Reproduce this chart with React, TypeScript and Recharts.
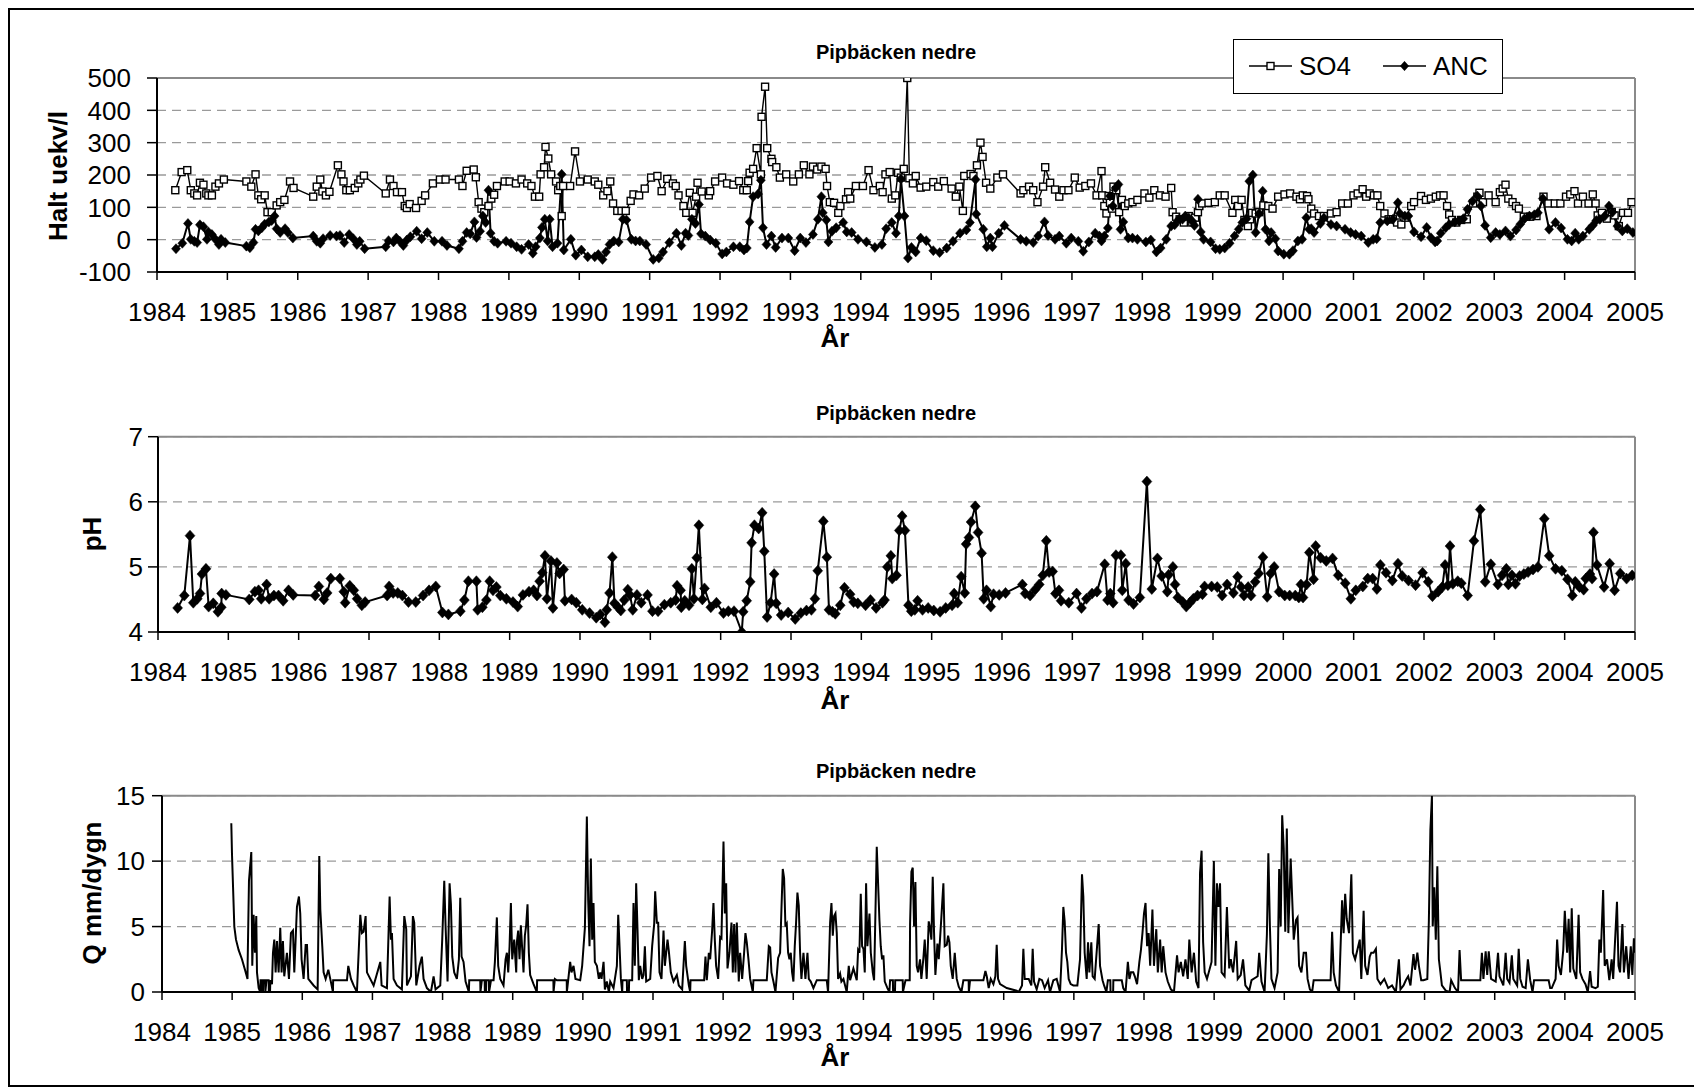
import React from 'react';
import { LineChart, Line, XAxis, YAxis, CartesianGrid, ReferenceLine } from 'recharts';

const FONT = '"Liberation Sans", Arial, Helvetica, sans-serif';

// ---------- tick labels ----------
const yearTicks = [1984, 1985, 1986, 1987, 1988, 1989, 1990, 1991, 1992, 1993, 1994, 1995, 1996, 1997, 1998, 1999, 2000, 2001, 2002, 2003, 2004, 2005];
const concTicks = [-100, 0, 100, 200, 300, 400, 500];
const phTicks = [4, 5, 6, 7];
const qTicks = [0, 5, 10, 15];

const chartTitle = 'Pipbäcken nedre';
const xTitle = 'År';

// ---------- SO4 (µekv/l) [decimal year, value] ----------
const so4Series: [number, number][] = [
  [1984.26, 153], [1984.35, 209], [1984.43, 215], [1984.48, 153], [1984.53, 143], [1984.57, 137], [1984.61, 176], [1984.66, 170], [1984.70, 143], [1984.73, 137], [1984.78, 137], [1984.83, 164], [1984.88, 174], [1984.95, 186],
  [1985.27, 180], [1985.34, 164], [1985.40, 202], [1985.44, 137], [1985.48, 125], [1985.53, 137], [1985.57, 85], [1985.63, 85], [1985.70, 106], [1985.75, 116], [1985.81, 123], [1985.89, 180], [1985.94, 160],
  [1986.22, 133], [1986.27, 164], [1986.32, 186], [1986.35, 149], [1986.40, 137], [1986.45, 148], [1986.57, 230], [1986.62, 202], [1986.65, 180], [1986.69, 153], [1986.74, 153], [1986.81, 160], [1986.86, 174], [1986.89, 186], [1986.94, 198],
  [1987.25, 143], [1987.31, 186], [1987.36, 166], [1987.41, 147], [1987.48, 147], [1987.52, 104], [1987.55, 98], [1987.59, 110], [1987.68, 98], [1987.76, 120], [1987.81, 137], [1987.92, 174],
  [1988.02, 186], [1988.10, 186], [1988.29, 186], [1988.34, 166], [1988.40, 213], [1988.50, 217], [1988.53, 193], [1988.57, 116], [1988.61, 96], [1988.65, 85], [1988.71, 104], [1988.75, 127], [1988.79, 139], [1988.83, 166], [1988.94, 180],
  [1989.01, 180], [1989.10, 174], [1989.18, 186], [1989.26, 174], [1989.32, 166], [1989.37, 133], [1989.43, 133], [1989.45, 202], [1989.50, 224], [1989.52, 287], [1989.56, 251], [1989.60, 202], [1989.67, 180], [1989.70, 153], [1989.73, 166], [1989.75, 73], [1989.77, 166], [1989.87, 166], [1989.94, 273],
  [1990.01, 180], [1990.12, 186], [1990.22, 180], [1990.27, 170], [1990.34, 137], [1990.40, 150], [1990.44, 180], [1990.48, 112], [1990.54, 89], [1990.60, 89], [1990.66, 89], [1990.73, 120], [1990.77, 140], [1990.85, 137], [1990.93, 158],
  [1991.02, 192], [1991.11, 197], [1991.17, 150], [1991.25, 188], [1991.33, 174], [1991.37, 166], [1991.41, 137], [1991.48, 104], [1991.52, 83], [1991.57, 145], [1991.61, 83], [1991.66, 133], [1991.68, 176], [1991.74, 149], [1991.84, 137], [1991.86, 150], [1991.93, 180],
  [1992.03, 192], [1992.10, 174], [1992.19, 170], [1992.27, 181], [1992.33, 153], [1992.38, 153], [1992.40, 181], [1992.42, 207], [1992.47, 219], [1992.52, 283], [1992.58, 202], [1992.59, 380], [1992.64, 473], [1992.67, 283], [1992.73, 250], [1992.74, 240], [1992.80, 224], [1992.85, 192], [1992.94, 202],
  [1993.04, 180], [1993.12, 202], [1993.19, 230], [1993.27, 202], [1993.32, 226], [1993.38, 217], [1993.44, 226], [1993.50, 219], [1993.52, 166], [1993.56, 116], [1993.62, 114], [1993.68, 83], [1993.71, 104], [1993.79, 125], [1993.82, 147], [1993.85, 127], [1993.93, 166],
  [1994.03, 166], [1994.11, 215], [1994.18, 153], [1994.27, 166], [1994.31, 147], [1994.35, 202], [1994.41, 209], [1994.44, 127], [1994.49, 137], [1994.53, 207], [1994.57, 192], [1994.61, 219], [1994.66, 500], [1994.69, 190], [1994.74, 174], [1994.78, 197], [1994.85, 161], [1994.93, 164],
  [1995.03, 178], [1995.10, 164], [1995.18, 181], [1995.29, 158], [1995.35, 133], [1995.40, 164], [1995.45, 89], [1995.47, 197], [1995.56, 203], [1995.60, 197], [1995.65, 230], [1995.70, 300], [1995.73, 256], [1995.78, 176], [1995.84, 158], [1995.94, 192],
  [1996.02, 202], [1996.27, 143], [1996.31, 153], [1996.39, 164], [1996.45, 153], [1996.51, 116], [1996.59, 164], [1996.62, 224], [1996.69, 176], [1996.76, 155], [1996.82, 133], [1996.88, 153], [1996.95, 153],
  [1997.04, 192], [1997.11, 161], [1997.19, 166], [1997.27, 174], [1997.35, 137], [1997.42, 212], [1997.43, 137], [1997.46, 104], [1997.49, 81], [1997.52, 135], [1997.54, 114], [1997.57, 96], [1997.59, 164], [1997.63, 153], [1997.67, 85], [1997.71, 123], [1997.75, 104], [1997.80, 112], [1997.86, 116], [1997.93, 123],
  [1998.03, 143], [1998.10, 130], [1998.17, 153], [1998.25, 137], [1998.33, 133], [1998.41, 160], [1998.43, 85], [1998.48, 71], [1998.53, 63], [1998.59, 53], [1998.66, 73], [1998.71, 53], [1998.75, 68], [1998.79, 85], [1998.81, 104], [1998.85, 112], [1998.94, 114],
  [1999.03, 116], [1999.10, 137], [1999.17, 137], [1999.28, 83], [1999.32, 123], [1999.36, 104], [1999.41, 123], [1999.45, 61], [1999.50, 42], [1999.53, 63], [1999.56, 83], [1999.61, 81], [1999.66, 85], [1999.72, 106], [1999.79, 104], [1999.85, 96], [1999.93, 133],
  [2000.02, 140], [2000.10, 143], [2000.19, 133], [2000.24, 125], [2000.28, 137], [2000.34, 135], [2000.36, 125], [2000.40, 96], [2000.44, 81], [2000.51, 73], [2000.58, 73], [2000.68, 81], [2000.76, 85], [2000.84, 112], [2000.92, 112],
  [2001.00, 137], [2001.06, 143], [2001.13, 156], [2001.18, 133], [2001.23, 143], [2001.29, 137], [2001.34, 137], [2001.38, 104], [2001.44, 81], [2001.50, 63], [2001.56, 63], [2001.62, 53], [2001.68, 47], [2001.74, 68], [2001.82, 104], [2001.86, 116], [2001.96, 135],
  [2002.03, 123], [2002.10, 127], [2002.17, 133], [2002.23, 137], [2002.28, 137], [2002.33, 104], [2002.36, 78], [2002.40, 61], [2002.46, 53], [2002.53, 61], [2002.61, 63], [2002.70, 112], [2002.76, 133], [2002.79, 145], [2002.84, 116], [2002.92, 137],
  [2003.02, 116], [2003.08, 147], [2003.12, 158], [2003.16, 170], [2003.20, 127], [2003.26, 116], [2003.31, 104], [2003.35, 96], [2003.42, 71], [2003.51, 71], [2003.60, 73], [2003.70, 133], [2003.77, 112], [2003.86, 112], [2003.94, 112],
  [2004.02, 133], [2004.08, 140], [2004.14, 150], [2004.19, 112], [2004.26, 133], [2004.34, 112], [2004.40, 140], [2004.44, 112], [2004.47, 75], [2004.53, 83], [2004.60, 65], [2004.67, 85], [2004.71, 75], [2004.77, 42], [2004.83, 83], [2004.90, 83], [2004.95, 116],
];

// ---------- ANC (µekv/l) ----------
const ancSeries: [number, number][] = [
  [1984.27, -28], [1984.36, -11], [1984.44, 50], [1984.48, 1], [1984.53, -5], [1984.57, -9], [1984.61, 46], [1984.66, 40], [1984.71, 1], [1984.73, 24], [1984.78, 16], [1984.83, 1], [1984.88, -15], [1984.91, 1], [1984.97, -9],
  [1985.27, -20], [1985.32, -25], [1985.37, -9], [1985.40, 32], [1985.44, 27], [1985.49, 37], [1985.53, 48], [1985.59, 55], [1985.63, 59], [1985.67, 73], [1985.70, 34], [1985.75, 22], [1985.82, 34], [1985.86, 22], [1985.93, 5],
  [1986.22, 11], [1986.27, -5], [1986.32, -11], [1986.36, 3], [1986.46, 13], [1986.55, 11], [1986.60, 13], [1986.66, -9], [1986.73, 16], [1986.79, 3], [1986.84, -15], [1986.88, -5], [1986.95, -28],
  [1987.25, -22], [1987.29, -3], [1987.36, -7], [1987.40, 5], [1987.45, -5], [1987.50, -18], [1987.55, -1], [1987.60, 9], [1987.69, 26], [1987.76, 3], [1987.84, 22], [1987.94, -5],
  [1988.05, -5], [1988.12, -18], [1988.29, -28], [1988.34, -5], [1988.40, 22], [1988.45, 18], [1988.51, 55], [1988.54, 7], [1988.59, 26], [1988.63, 73], [1988.67, 53], [1988.71, 153], [1988.74, 20], [1988.79, -5], [1988.84, -11], [1988.96, -5],
  [1989.03, -11], [1989.11, -22], [1989.18, -30], [1989.28, -15], [1989.34, -42], [1989.38, -22], [1989.44, 5], [1989.47, 38], [1989.51, 63], [1989.55, -4], [1989.58, 63], [1989.62, -22], [1989.69, -11], [1989.75, 202], [1989.78, -32], [1989.88, 1], [1989.95, -48],
  [1990.03, -32], [1990.12, -53], [1990.22, -53], [1990.27, -46], [1990.33, -61], [1990.38, -38], [1990.43, -15], [1990.49, -4], [1990.56, -7], [1990.62, 63], [1990.67, 61], [1990.74, 1], [1990.80, -4], [1990.86, -4], [1990.95, -15],
  [1991.05, -61], [1991.13, -57], [1991.19, -38], [1991.28, -9], [1991.38, 20], [1991.45, -18], [1991.51, 20], [1991.55, 13], [1991.60, 63], [1991.65, 50], [1991.70, 109], [1991.73, 18], [1991.79, 11], [1991.86, -1], [1991.94, -11],
  [1992.03, -44], [1992.09, -38], [1992.19, -22], [1992.28, -22], [1992.34, -32], [1992.38, -26], [1992.42, 55], [1992.47, 133], [1992.54, 141], [1992.58, 184], [1992.61, 37], [1992.66, -15], [1992.73, 11], [1992.79, -24], [1992.88, 5], [1992.97, 5],
  [1993.06, -34], [1993.14, 5], [1993.22, -9], [1993.32, 16], [1993.39, 63], [1993.44, 133], [1993.46, 83], [1993.51, 61], [1993.54, -7], [1993.59, 26], [1993.65, 37], [1993.75, 53], [1993.80, 24], [1993.87, 22], [1993.96, 1],
  [1994.08, -7], [1994.20, -24], [1994.30, -15], [1994.36, 34], [1994.44, 53], [1994.50, 20], [1994.54, 73], [1994.57, 188], [1994.62, 73], [1994.67, -57], [1994.72, -24], [1994.78, -38], [1994.85, 5], [1994.93, -3],
  [1995.03, -34], [1995.12, -40], [1995.22, -26], [1995.31, -5], [1995.41, 20], [1995.50, 30], [1995.55, 53], [1995.63, 186], [1995.64, 79], [1995.74, 32], [1995.79, -22], [1995.84, 5], [1995.87, -22], [1995.96, 20],
  [1996.04, 44], [1996.27, 1], [1996.35, -5], [1996.45, -9], [1996.52, 11], [1996.61, 55], [1996.66, 13], [1996.76, 1], [1996.82, 11], [1996.92, -11], [1996.99, 5],
  [1997.09, -5], [1997.16, -36], [1997.24, -7], [1997.33, 20], [1997.39, 11], [1997.42, -4], [1997.46, 11], [1997.51, 36], [1997.54, 135], [1997.58, 104], [1997.62, 160], [1997.66, 171], [1997.69, 32], [1997.73, 55], [1997.80, 5], [1997.86, 5], [1997.93, 1],
  [1998.05, -7], [1998.12, -1], [1998.20, -38], [1998.26, -26], [1998.34, 1], [1998.41, 42], [1998.46, 46], [1998.52, 63], [1998.57, 63], [1998.61, 73], [1998.66, 67], [1998.71, 57], [1998.74, 44], [1998.79, 125], [1998.83, 24], [1998.87, 1], [1998.97, -7],
  [1999.04, -28], [1999.10, -30], [1999.17, -26], [1999.24, -11], [1999.31, 11], [1999.37, 32], [1999.42, 53], [1999.48, 65], [1999.52, 181], [1999.57, 200], [1999.61, 22], [1999.66, 81], [1999.71, 150], [1999.75, 32], [1999.80, -4], [1999.83, 22], [1999.89, 3], [1999.93, -35],
  [2000.01, -45], [2000.09, -45], [2000.14, -34], [2000.21, -4], [2000.27, 1], [2000.33, 68], [2000.37, 32], [2000.40, 34], [2000.44, 22], [2000.53, 50], [2000.58, 67], [2000.68, 47], [2000.76, 42], [2000.88, 32], [2000.96, 22],
  [2001.03, 16], [2001.11, 11], [2001.21, -9], [2001.28, 1], [2001.33, 3], [2001.38, 53], [2001.48, 58], [2001.56, 63], [2001.63, 114], [2001.66, 81], [2001.73, 73], [2001.78, 73], [2001.86, 24], [2001.96, 9],
  [2002.04, 38], [2002.10, 6], [2002.16, -7], [2002.19, -4], [2002.24, 20], [2002.31, 37], [2002.36, 47], [2002.44, 55], [2002.50, 58], [2002.56, 65], [2002.62, 94], [2002.69, 119], [2002.76, 135], [2002.81, 104], [2002.87, 44], [2002.95, 6],
  [2003.02, 22], [2003.08, 16], [2003.16, 27], [2003.23, 11], [2003.31, 30], [2003.37, 48], [2003.43, 65], [2003.50, 73], [2003.57, 77], [2003.62, 83], [2003.69, 127], [2003.78, 32], [2003.87, 53], [2003.95, 36],
  [2004.04, 1], [2004.10, -4], [2004.15, 20], [2004.20, 1], [2004.26, 11], [2004.35, 32], [2004.40, 44], [2004.45, 59], [2004.50, 63], [2004.57, 73], [2004.63, 104], [2004.68, 85], [2004.75, 42], [2004.82, 27], [2004.89, 34], [2004.97, 22],
];

// ---------- pH ----------
const phSeries: [number, number][] = [
  [1984.279, 4.37], [1984.374, 4.56], [1984.455, 5.48], [1984.502, 4.45], [1984.559, 4.51], [1984.597, 4.59], [1984.625, 4.89], [1984.682, 4.97], [1984.720, 4.39], [1984.786, 4.44], [1984.852, 4.31], [1984.900, 4.38], [1984.905, 4.59], [1984.966, 4.57],
  [1985.297, 4.50], [1985.378, 4.62], [1985.430, 4.64], [1985.468, 4.51], [1985.544, 4.73], [1985.581, 4.51], [1985.648, 4.56], [1985.714, 4.56], [1985.780, 4.48], [1985.856, 4.64], [1985.922, 4.57],
  [1986.235, 4.56], [1986.287, 4.70], [1986.358, 4.50], [1986.405, 4.60], [1986.457, 4.82], [1986.585, 4.82], [1986.642, 4.62], [1986.661, 4.45], [1986.727, 4.71], [1986.784, 4.64], [1986.831, 4.51], [1986.898, 4.41], [1986.945, 4.46],
  [1987.258, 4.56], [1987.286, 4.70], [1987.343, 4.60], [1987.409, 4.60], [1987.475, 4.56], [1987.561, 4.46], [1987.665, 4.46], [1987.769, 4.56], [1987.854, 4.64], [1987.949, 4.70],
  [1988.044, 4.30], [1988.129, 4.27], [1988.299, 4.32], [1988.356, 4.49], [1988.413, 4.78], [1988.527, 4.78], [1988.545, 4.34], [1988.612, 4.38], [1988.669, 4.49], [1988.716, 4.78], [1988.763, 4.64], [1988.811, 4.69], [1988.867, 4.56], [1988.953, 4.51],
  [1989.047, 4.46], [1989.114, 4.39], [1989.189, 4.57], [1989.275, 4.62], [1989.341, 4.64], [1989.388, 4.56], [1989.426, 4.78], [1989.464, 4.91], [1989.502, 5.17], [1989.530, 4.51], [1989.587, 5.09], [1989.615, 4.37], [1989.672, 5.06], [1989.710, 4.90], [1989.767, 4.96], [1989.786, 4.48], [1989.881, 4.50], [1989.947, 4.45],
  [1990.032, 4.34], [1990.136, 4.29], [1990.231, 4.22], [1990.288, 4.27], [1990.354, 4.15], [1990.38, 4.34], [1990.42, 4.60], [1990.46, 5.15], [1990.49, 4.44], [1990.54, 4.38], [1990.58, 4.33], [1990.63, 4.49], [1990.68, 4.65], [1990.71, 4.57], [1990.75, 4.34], [1990.81, 4.57], [1990.87, 4.45], [1990.96, 4.57],
  [1991.03, 4.32], [1991.11, 4.32], [1991.20, 4.42], [1991.29, 4.45], [1991.36, 4.49], [1991.38, 4.71], [1991.43, 4.64], [1991.44, 4.38], [1991.49, 4.48], [1991.55, 4.41], [1991.59, 4.97], [1991.62, 4.51], [1991.66, 5.14], [1991.69, 5.64], [1991.74, 4.50], [1991.77, 4.67], [1991.86, 4.38], [1991.94, 4.45],
  [1992.04, 4.29], [1992.11, 4.32], [1992.19, 4.32], [1992.30, 4.00], [1992.32, 4.31], [1992.37, 4.48], [1992.42, 4.77], [1992.44, 5.37], [1992.48, 5.64], [1992.54, 5.59], [1992.59, 5.83], [1992.62, 5.24], [1992.66, 4.23], [1992.71, 4.45], [1992.76, 4.89], [1992.79, 4.44], [1992.86, 4.26], [1992.96, 4.30],
  [1993.06, 4.20], [1993.14, 4.29], [1993.22, 4.33], [1993.29, 4.34], [1993.34, 4.51], [1993.38, 4.94], [1993.46, 5.70], [1993.51, 5.15], [1993.54, 4.34], [1993.59, 4.31], [1993.63, 4.28], [1993.70, 4.41], [1993.76, 4.68], [1993.84, 4.58], [1993.89, 4.46], [1993.95, 4.44],
  [1994.06, 4.41], [1994.13, 4.49], [1994.21, 4.37], [1994.30, 4.45], [1994.33, 4.49], [1994.37, 5.00], [1994.42, 5.17], [1994.44, 4.82], [1994.50, 4.87], [1994.54, 5.56], [1994.58, 5.78], [1994.62, 5.56], [1994.67, 4.41], [1994.71, 4.32], [1994.76, 4.34], [1994.80, 4.48], [1994.87, 4.34], [1994.95, 4.37],
  [1995.03, 4.33], [1995.12, 4.31], [1995.20, 4.37], [1995.29, 4.41], [1995.32, 4.59], [1995.37, 4.45], [1995.42, 4.85], [1995.47, 4.60], [1995.49, 5.35], [1995.53, 5.45], [1995.56, 5.69], [1995.62, 5.93], [1995.66, 5.53], [1995.71, 5.21], [1995.74, 4.51], [1995.78, 4.64], [1995.84, 4.39], [1995.88, 4.58], [1995.96, 4.57],
  [1996.05, 4.60], [1996.29, 4.73], [1996.33, 4.59], [1996.40, 4.56], [1996.47, 4.65], [1996.53, 4.73], [1996.58, 4.87], [1996.63, 5.40], [1996.67, 4.92], [1996.72, 4.93], [1996.76, 4.59], [1996.81, 4.64], [1996.84, 4.48], [1996.95, 4.45],
  [1997.06, 4.59], [1997.13, 4.37], [1997.20, 4.51], [1997.28, 4.59], [1997.35, 4.62], [1997.46, 5.04], [1997.50, 4.49], [1997.54, 4.59], [1997.58, 4.45], [1997.62, 5.18], [1997.69, 5.18], [1997.71, 4.64], [1997.76, 5.05], [1997.80, 4.49], [1997.87, 4.43], [1997.96, 4.53],
  [1998.06, 6.31], [1998.13, 4.66], [1998.21, 5.13], [1998.27, 4.86], [1998.35, 4.62], [1998.37, 4.88], [1998.43, 5.00], [1998.46, 4.73], [1998.50, 4.53], [1998.57, 4.46], [1998.62, 4.39], [1998.67, 4.45], [1998.72, 4.51], [1998.78, 4.56], [1998.85, 4.58], [1998.88, 4.70], [1998.98, 4.70],
  [1999.06, 4.69], [1999.13, 4.56], [1999.20, 4.73], [1999.29, 4.60], [1999.35, 4.85], [1999.40, 4.69], [1999.44, 4.56], [1999.50, 4.69], [1999.54, 4.56], [1999.60, 4.77], [1999.65, 4.90], [1999.71, 5.15], [1999.77, 4.54], [1999.82, 4.90], [1999.87, 5.00], [1999.94, 4.62],
  [2000.02, 4.56], [2000.09, 4.56], [2000.17, 4.56], [2000.22, 4.53], [2000.25, 4.73], [2000.28, 4.53], [2000.33, 4.73], [2000.37, 5.22], [2000.43, 4.81], [2000.46, 5.32], [2000.53, 5.14], [2000.61, 5.09], [2000.70, 5.13], [2000.78, 4.87], [2000.88, 4.75], [2000.96, 4.51],
  [2001.03, 4.64], [2001.13, 4.70], [2001.20, 4.82], [2001.27, 4.82], [2001.33, 4.66], [2001.38, 5.03], [2001.46, 4.91], [2001.55, 4.79], [2001.63, 5.05], [2001.69, 4.86], [2001.78, 4.79], [2001.88, 4.72], [2001.98, 4.91],
  [2002.06, 4.77], [2002.12, 4.55], [2002.20, 4.62], [2002.26, 4.69], [2002.30, 5.03], [2002.34, 4.72], [2002.37, 5.32], [2002.41, 4.74], [2002.48, 4.78], [2002.53, 4.75], [2002.62, 4.56], [2002.71, 5.40], [2002.80, 5.88], [2002.87, 4.77], [2002.95, 5.04],
  [2003.05, 4.73], [2003.11, 4.87], [2003.17, 4.97], [2003.20, 4.73], [2003.25, 4.87], [2003.30, 4.74], [2003.36, 4.86], [2003.42, 4.89], [2003.48, 4.92], [2003.55, 4.96], [2003.62, 5.00], [2003.71, 5.74], [2003.78, 5.17], [2003.87, 4.97], [2003.96, 4.94],
  [2004.04, 4.81], [2004.11, 4.56], [2004.15, 4.77], [2004.21, 4.69], [2004.27, 4.65], [2004.30, 4.82], [2004.36, 4.89], [2004.39, 4.82], [2004.41, 5.53], [2004.46, 5.03], [2004.56, 4.69], [2004.64, 5.05], [2004.71, 4.64], [2004.79, 4.90], [2004.88, 4.82], [2004.96, 4.87],
];

// ---------- Q (mm/dygn) ----------
const qSeries: [number, number][] = [
  [1984.988, 12.9], [1984.998, 10.5], [1985.031, 5.0], [1985.055, 4.0], [1985.093, 3.2], [1985.140, 2.5], [1985.188, 1.6], [1985.219, 1.0], [1985.221, 2.2], [1985.240, 8.5], [1985.273, 10.7], [1985.287, 2.0], [1985.306, 5.9], [1985.325, 3.0], [1985.344, 5.8], [1985.354, 1.5], [1985.378, 0.3],
  [1985.401, 0], [1985.405, 0.9], [1985.425, 0.9], [1985.428, 0], [1985.440, 0], [1985.443, 0.9], [1985.470, 0.9], [1985.473, 0], [1985.490, 0.9], [1985.520, 0.9], [1985.523, 0], [1985.540, 0], [1985.545, 0.9], [1985.568, 0.6],
  [1985.582, 3.0], [1985.601, 4.0], [1985.620, 1.5], [1985.639, 3.9], [1985.663, 1.5], [1985.686, 4.9], [1985.705, 1.5], [1985.724, 3.9], [1985.743, 1.2], [1985.781, 3.0], [1985.810, 1.0], [1985.838, 4.5], [1985.867, 4.7], [1985.886, 1.5], [1985.924, 6.5], [1985.952, 7.3], [1985.971, 6.0], [1985.990, 2.5],
  [1986.019, 1.0], [1986.048, 3.6], [1986.067, 3.6], [1986.086, 1.0], [1986.162, 0.5], [1986.219, 0.2], [1986.242, 10.4], [1986.257, 6.3], [1986.285, 3.5], [1986.304, 1.5], [1986.333, 1.0], [1986.371, 1.7], [1986.399, 1.0], [1986.437, 0], [1986.440, 0.9], [1986.637, 0.9],
  [1986.656, 2.0], [1986.675, 1.5], [1986.694, 1.0], [1986.732, 0.5], [1986.779, 0], [1986.827, 5.9], [1986.850, 4.5], [1986.874, 4.6], [1986.903, 5.8], [1986.922, 1.5], [1986.969, 1.0],
  [1987.017, 0.5], [1987.112, 2.3], [1987.131, 0.5], [1987.207, 0.3], [1987.245, 7.3], [1987.264, 4.0], [1987.278, 4.5], [1987.302, 1.0], [1987.349, 0.5], [1987.420, 0.2], [1987.454, 5.8], [1987.482, 4.8], [1987.492, 0.5], [1987.549, 1.2], [1987.577, 5.8], [1987.596, 5.3], [1987.625, 0.5],
  [1987.672, 2.0], [1987.705, 2.7], [1987.729, 1.0], [1987.777, 0.3], [1987.834, 0], [1987.872, 1.2], [1987.900, 0.2], [1987.967, 0.5], [1987.995, 4.0],
  [1988.024, 8.5], [1988.043, 5.0], [1988.071, 0.8], [1988.100, 8.3], [1988.119, 6.7], [1988.138, 2.7], [1988.166, 1.5], [1988.204, 1.0], [1988.233, 2.5], [1988.252, 7.2], [1988.271, 2.7], [1988.299, 2.3], [1988.328, 0.8], [1988.375, 0],
  [1988.380, 0.9], [1988.537, 0.9], [1988.540, 0], [1988.560, 0.9], [1988.600, 0.9], [1988.603, 0], [1988.620, 0], [1988.623, 0.9], [1988.660, 0.9], [1988.663, 0], [1988.690, 0.9], [1988.727, 0.9],
  [1988.746, 2.3], [1988.774, 5.7], [1988.793, 2.0], [1988.822, 1.0], [1988.869, 0.5], [1988.898, 2.5], [1988.917, 3.0], [1988.936, 1.5], [1988.955, 3.5], [1988.974, 6.8], [1988.993, 2.5],
  [1989.021, 4.0], [1989.050, 1.5], [1989.059, 3.8], [1989.078, 4.7], [1989.097, 2.5], [1989.116, 5.1], [1989.135, 3.3], [1989.154, 1.5], [1989.173, 4.3], [1989.192, 5.1], [1989.211, 6.7], [1989.230, 3.0], [1989.249, 1.3], [1989.297, 0.6], [1989.344, 0],
  [1989.348, 0.9], [1989.580, 0.9], [1989.582, 0], [1989.601, 1.0], [1989.629, 0.9], [1989.770, 0.9], [1989.772, 0], [1989.791, 0.9], [1989.819, 2.3], [1989.838, 1.5], [1989.867, 2.0], [1989.895, 1.0], [1989.962, 0.9], [1989.990, 2.0],
  [1990.029, 4.9], [1990.057, 13.4], [1990.076, 7.0], [1990.095, 3.5], [1990.114, 10.2], [1990.133, 4.0], [1990.152, 6.8], [1990.171, 2.3], [1990.200, 2.0], [1990.228, 1.0], [1990.247, 1.5],
  [1990.266, 1.0], [1990.295, 2.3], [1990.314, 0.2], [1990.342, 0.8], [1990.371, 0], [1990.390, 0.8], [1990.437, 0.3], [1990.485, 2.0], [1990.504, 5.9], [1990.523, 3.5], [1990.542, 1.0], [1990.561, 0],
  [1990.565, 0.9], [1990.627, 0.9], [1990.630, 0], [1990.656, 0], [1990.660, 0.9], [1990.703, 0.9], [1990.722, 6.8], [1990.741, 2.0], [1990.760, 8.3], [1990.779, 4.8], [1990.798, 0.9], [1990.817, 2.0], [1990.846, 1.0], [1990.865, 1.3], [1990.884, 3.5], [1990.903, 0.8], [1990.960, 1.0], [1990.988, 3.5],
  [1991.017, 5.2], [1991.031, 7.7], [1991.055, 5.3], [1991.074, 5.3], [1991.093, 1.5], [1991.121, 1.0], [1991.150, 4.7], [1991.169, 2.0], [1991.188, 3.0], [1991.207, 4.0], [1991.226, 3.1], [1991.254, 1.5], [1991.292, 0.8], [1991.340, 1.3], [1991.368, 0.5], [1991.416, 0.2], [1991.454, 3.9], [1991.473, 2.0], [1991.511, 0.5], [1991.530, 0],
  [1991.535, 0.9], [1991.729, 0.9], [1991.748, 2.7], [1991.767, 0.9], [1991.796, 3.0], [1991.815, 2.5], [1991.843, 4.7], [1991.862, 6.8], [1991.881, 4.0], [1991.900, 2.0], [1991.929, 1.0], [1991.957, 4.2], [1991.976, 4.1],
  [1992.005, 11.5], [1992.024, 6.0], [1992.043, 8.3], [1992.062, 1.8], [1992.090, 3.0], [1992.119, 5.3], [1992.138, 1.5], [1992.157, 5.2], [1992.176, 1.5], [1992.195, 5.3], [1992.223, 0.8], [1992.242, 3.0], [1992.271, 1.0], [1992.299, 3.0], [1992.318, 4.5], [1992.337, 3.8], [1992.361, 2.5], [1992.385, 1.0], [1992.423, 0],
  [1992.432, 0.9], [1992.622, 0.9], [1992.651, 3.5], [1992.670, 3.4], [1992.689, 1.5], [1992.717, 0.8], [1992.746, 0], [1992.784, 2.6], [1992.812, 3.0], [1992.831, 6.3], [1992.850, 9.4], [1992.869, 8.7], [1992.888, 5.0], [1992.907, 5.2], [1992.926, 3.0], [1992.945, 2.5], [1992.964, 3.0], [1992.983, 1.5],
  [1993.002, 0.8], [1993.021, 3.5], [1993.040, 5.3], [1993.059, 7.6], [1993.078, 6.6], [1993.097, 3.0], [1993.116, 1.0], [1993.145, 3.0], [1993.173, 1.0], [1993.202, 3.0], [1993.221, 1.0], [1993.249, 0.8], [1993.287, 0.3],
  [1993.335, 0.9], [1993.477, 0.9], [1993.496, 0], [1993.525, 5.3], [1993.544, 6.8], [1993.563, 4.3], [1993.582, 5.8], [1993.601, 6.0], [1993.620, 4.5], [1993.639, 1.0], [1993.667, 1.4], [1993.686, 0.8], [1993.715, 1.0], [1993.762, 0], [1993.791, 2.0], [1993.810, 0.9], [1993.857, 1.8], [1993.905, 0.9], [1993.924, 3.2], [1993.943, 3.0], [1993.962, 7.5], [1993.981, 3.5],
  [1994.000, 3.3], [1994.019, 1.5], [1994.038, 8.3], [1994.057, 3.5], [1994.086, 6.0], [1994.105, 3.0], [1994.133, 1.5], [1994.152, 0.9], [1994.190, 11.1], [1994.209, 8.3], [1994.228, 5.5], [1994.247, 3.5], [1994.266, 2.5], [1994.285, 2.8], [1994.304, 0.8], [1994.342, 0.3], [1994.370, 0],
  [1994.380, 0.9], [1994.420, 0.9], [1994.423, 0], [1994.450, 0], [1994.453, 0.9], [1994.560, 0.9], [1994.563, 0], [1994.600, 0.9], [1994.660, 0.9],
  [1994.665, 5.2], [1994.684, 9.2], [1994.703, 9.5], [1994.722, 5.0], [1994.741, 8.4], [1994.760, 2.0], [1994.779, 1.5], [1994.807, 2.5], [1994.826, 1.0], [1994.855, 2.6], [1994.874, 4.0], [1994.902, 1.0], [1994.931, 5.4], [1994.950, 4.9], [1994.969, 4.0], [1994.988, 8.8],
  [1995.007, 4.5], [1995.026, 1.3], [1995.055, 3.7], [1995.074, 2.5], [1995.102, 4.9], [1995.121, 6.6], [1995.140, 8.3], [1995.159, 3.5], [1995.188, 3.6], [1995.207, 4.3], [1995.226, 3.8], [1995.245, 2.0], [1995.273, 1.0], [1995.302, 3.0], [1995.330, 1.0], [1995.359, 0.4], [1995.397, 0],
  [1995.425, 0.9], [1995.500, 0.9], [1995.503, 0], [1995.520, 0.9], [1995.710, 0.9], [1995.739, 1.6], [1995.758, 1.2], [1995.786, 0.3], [1995.815, 1.0], [1995.853, 0.6], [1995.881, 1.2], [1995.900, 3.6], [1995.919, 1.0], [1995.948, 0.6],
  [1996.043, 0.3], [1996.185, 0.1], [1996.214, 0], [1996.261, 0.5], [1996.280, 3.3], [1996.299, 1.0], [1996.328, 1.0], [1996.356, 1.0], [1996.394, 0.5], [1996.413, 3.3], [1996.432, 0.8], [1996.470, 0.2], [1996.508, 1.0], [1996.546, 0.9], [1996.584, 0.3], [1996.632, 0.9], [1996.660, 0], [1996.708, 0.9], [1996.755, 1.0], [1996.803, 0],
  [1996.831, 3.3], [1996.850, 6.5], [1996.869, 5.4], [1996.888, 3.0], [1996.907, 2.3], [1996.926, 1.0], [1996.955, 0.6], [1996.993, 0.5],
  [1997.050, 0.5], [1997.088, 2.5], [1997.116, 9.0], [1997.135, 7.3], [1997.154, 3.0], [1997.183, 1.0], [1997.202, 3.8], [1997.221, 1.5], [1997.249, 3.8], [1997.268, 1.2], [1997.297, 1.0], [1997.354, 5.2], [1997.373, 2.0],
  [1997.409, 0.9], [1997.431, 0.5], [1997.464, 0], [1997.485, 0.9], [1997.520, 0.9], [1997.523, 0], [1997.560, 0], [1997.563, 0.9], [1997.683, 0.9], [1997.704, 0.3], [1997.737, 0],
  [1997.770, 2.3], [1997.792, 1.0], [1997.814, 1.5], [1997.847, 1.5], [1997.869, 1.2], [1997.901, 0.6], [1997.934, 2.3], [1997.956, 3.2], [1997.978, 4.5],
  [1998.000, 6.0], [1998.022, 6.8], [1998.044, 3.5], [1998.066, 4.5], [1998.088, 2.0], [1998.120, 6.3], [1998.142, 2.0], [1998.175, 4.8], [1998.197, 1.5], [1998.230, 4.0], [1998.252, 1.5], [1998.274, 3.5], [1998.307, 1.5], [1998.339, 0.8], [1998.383, 0.2], [1998.427, 0],
  [1998.471, 2.8], [1998.493, 1.5], [1998.525, 2.3], [1998.558, 1.2], [1998.591, 2.5], [1998.624, 1.0], [1998.646, 4.0], [1998.679, 1.5], [1998.712, 3.0], [1998.744, 0.8], [1998.777, 0.3], [1998.799, 9.1], [1998.821, 10.8], [1998.843, 3.8], [1998.865, 1.5], [1998.898, 1.0], [1998.963, 2.3], [1998.996, 10.0],
  [1999.018, 2.0], [1999.040, 8.3], [1999.062, 6.5], [1999.084, 8.3], [1999.106, 1.5], [1999.149, 1.2], [1999.182, 6.5], [1999.215, 1.8], [1999.237, 2.5], [1999.270, 1.5], [1999.314, 3.9], [1999.336, 1.0], [1999.379, 1.3], [1999.412, 2.5], [1999.445, 0.5], [1999.500, 0.1],
  [1999.533, 0.9], [1999.620, 1.2], [1999.642, 3.0], [1999.675, 0.8], [1999.719, 0], [1999.752, 4.4], [1999.773, 10.6], [1999.795, 5.0], [1999.817, 1.0], [1999.861, 0.3], [1999.905, 1.5], [1999.927, 9.4], [1999.949, 5.0], [1999.970, 13.5], [1999.992, 11.0],
  [2000.014, 4.6], [2000.036, 12.5], [2000.058, 4.5], [2000.091, 10.2], [2000.135, 4.0], [2000.167, 5.5], [2000.189, 5.7], [2000.211, 2.0], [2000.244, 1.5], [2000.277, 3.0], [2000.310, 3.0], [2000.332, 1.0], [2000.365, 0.2], [2000.397, 0],
  [2000.419, 0.9], [2000.660, 0.9], [2000.682, 4.6], [2000.704, 1.5], [2000.737, 0.5], [2000.781, 0], [2000.824, 7.0], [2000.846, 4.5], [2000.868, 7.5], [2000.890, 5.6], [2000.923, 4.5], [2000.956, 9.0], [2000.978, 3.0],
  [2001.010, 2.5], [2001.054, 3.5], [2001.076, 4.0], [2001.098, 1.0], [2001.131, 6.2], [2001.153, 2.0], [2001.186, 1.3], [2001.218, 2.7], [2001.240, 3.0], [2001.273, 3.0], [2001.306, 3.3], [2001.328, 1.0], [2001.372, 0.6], [2001.426, 1.0], [2001.481, 0.3], [2001.536, 0.5], [2001.591, 0],
  [2001.634, 2.5], [2001.656, 0.2], [2001.700, 0.5], [2001.733, 0.9], [2001.766, 1.2], [2001.799, 0.5], [2001.842, 2.9], [2001.864, 1.7], [2001.897, 3.0], [2001.919, 2.0], [2001.952, 0.9], [2001.985, 0.9],
  [2002.039, 1.0], [2002.061, 5.4], [2002.083, 12.4], [2002.105, 15.0], [2002.116, 5.0], [2002.138, 8.0], [2002.160, 4.0], [2002.182, 9.6], [2002.204, 2.5], [2002.226, 1.5], [2002.247, 0.5], [2002.302, 0.1], [2002.357, 0], [2002.379, 0.9], [2002.433, 0.3], [2002.477, 0], [2002.499, 3.2], [2002.521, 0.9],
  [2002.576, 0.9], [2002.795, 0.9], [2002.817, 3.0], [2002.839, 1.0], [2002.871, 3.1], [2002.893, 1.3], [2002.915, 3.1], [2002.948, 1.0],
  [2003.014, 0.8], [2003.047, 3.0], [2003.068, 1.2], [2003.123, 0.5], [2003.156, 3.0], [2003.178, 1.0], [2003.211, 0.7], [2003.244, 2.8], [2003.265, 1.0], [2003.320, 0.5], [2003.342, 3.3], [2003.364, 1.0], [2003.397, 0.4], [2003.441, 0.3], [2003.473, 2.5], [2003.506, 0.9], [2003.539, 0],
  [2003.561, 0.9], [2003.769, 0.9], [2003.791, 0.3], [2003.813, 0.3], [2003.868, 1.0], [2003.890, 4.0], [2003.911, 2.0], [2003.944, 1.3], [2003.977, 3.2], [2003.999, 6.2],
  [2004.032, 3.0], [2004.054, 5.6], [2004.076, 1.5], [2004.098, 6.4], [2004.120, 1.8], [2004.163, 1.0], [2004.196, 5.9], [2004.218, 1.5], [2004.251, 1.0], [2004.294, 0.6], [2004.327, 0], [2004.360, 1.6], [2004.382, 0.4], [2004.437, 0.3], [2004.470, 0.4],
  [2004.492, 4.0], [2004.513, 3.0], [2004.546, 7.8], [2004.568, 2.0], [2004.601, 2.5], [2004.634, 0.9], [2004.667, 2.5], [2004.689, 1.0], [2004.743, 6.9], [2004.765, 2.0], [2004.787, 1.5], [2004.820, 5.2], [2004.842, 1.5], [2004.875, 3.5], [2004.908, 1.0], [2004.940, 3.5], [2004.962, 1.3], [2004.984, 4.1], [2004.998, 3.0],
];

const toRows = (s: [number, number][]) => s.map(([t, v]) => ({ t, v }));
const so4Rows = toRows(so4Series);
const ancRows = toRows(ancSeries);
const phRows = toRows(phSeries);
const qRows = toRows(qSeries);

// ---------- markers ----------
const SquareDot = (p: any) => (
  <rect key={`sq-${p.index}`} x={p.cx - 3.5} y={p.cy - 3.5} width={7} height={7} fill="#fff" stroke="#000" strokeWidth={1.4} />
);
const makeDiamond = (r: number, prefix: string) => (p: any) => (
  <polygon key={`${prefix}-${p.index}`} points={`${p.cx},${p.cy - r} ${p.cx + r * 0.9},${p.cy} ${p.cx},${p.cy + r} ${p.cx - r * 0.9},${p.cy}`} fill="#000" stroke="#000" strokeWidth={0.5} />
);
const AncDot = makeDiamond(5, 'anc');
const PhDot = makeDiamond(5.5, 'ph');

// ---------- layout ----------
const CHART_W = 1688;
const RIGHT = 63;
const tickStyle = { fontSize: 26, fill: '#000', fontFamily: FONT };
const axisLineStyle = { stroke: '#000', strokeWidth: 2 };
const tickLineStyle = { stroke: '#000', strokeWidth: 1.5 };

function commonAxes(yWidth: number, domain: [number, number], ticks: number[], yMargin: number) {
  return [
    <CartesianGrid key="grid" vertical={false} stroke="#9a9a9a" strokeWidth={1.3} strokeDasharray="9 6" />,
    <XAxis key="x" type="number" dataKey="t" domain={[1984, 2005]} ticks={yearTicks} interval={0} allowDataOverflow
      tick={tickStyle} tickSize={8} tickMargin={23} axisLine={axisLineStyle} tickLine={tickLineStyle} height={60} />,
    <YAxis key="y" type="number" domain={domain} ticks={ticks} interval={0} allowDataOverflow width={yWidth}
      tick={tickStyle} tickSize={10} tickMargin={yMargin} axisLine={axisLineStyle} tickLine={tickLineStyle} />,
    <ReferenceLine key="rt" y={domain[1]} stroke="#8a8a8a" strokeWidth={2} />,
    <ReferenceLine key="rr" x={2005} stroke="#8a8a8a" strokeWidth={2} />,
  ];
}

const titleStyle = (cx: number, cy: number): React.CSSProperties => ({
  position: 'absolute', left: cx - 300, width: 600, top: cy - 12, height: 24, lineHeight: '24px',
  textAlign: 'center', fontFamily: FONT, fontWeight: 'bold', fontSize: 20, color: '#000',
});
const axisTitleStyle = (cx: number, cy: number, rotate: boolean): React.CSSProperties => ({
  position: 'absolute', left: cx, top: cy, transform: `translate(-50%, -50%)${rotate ? ' rotate(-90deg)' : ''}`,
  whiteSpace: 'nowrap', fontFamily: FONT, fontWeight: 'bold', fontSize: 26, lineHeight: rotate ? '30px' : '18px', color: '#000',
});

function Legend() {
  return (
    <div style={{ position: 'absolute', left: 1223, top: 29, width: 270, height: 55, boxSizing: 'border-box', border: '1.5px solid #000', background: '#fff' }}>
      <svg width={267} height={52} style={{ display: 'block' }}>
        <line x1={15} y1={26} x2={58} y2={26} stroke="#000" strokeWidth={1.5} />
        <rect x={33} y={22.5} width={7} height={7} fill="#fff" stroke="#000" strokeWidth={1.4} />
        <text x={65} y={35} fontFamily={FONT} fontSize={26} fill="#000">SO4</text>
        <line x1={149} y1={26} x2={192} y2={26} stroke="#000" strokeWidth={1.5} />
        <polygon points="170.5,21 175,26 170.5,31 166,26" fill="#000" />
        <text x={199} y={35} fontFamily={FONT} fontSize={26} fill="#000">ANC</text>
      </svg>
    </div>
  );
}

export default function App() {
  return (
    <div style={{ position: 'relative', width: 1692, height: 1079, boxSizing: 'border-box', border: '2px solid #000', background: '#fff', overflow: 'hidden' }}>
      {/* Panel 1: SO4 / ANC */}
      <div style={{ position: 'absolute', left: 0, top: 0 }}>
        <LineChart width={CHART_W} height={322} margin={{ top: 68, right: RIGHT, bottom: 0, left: 0 }}>
          {commonAxes(147, [-100, 500], concTicks, 16)}
          <Line data={so4Rows} dataKey="v" type="linear" stroke="#000" strokeWidth={1.4} dot={SquareDot} activeDot={false} isAnimationActive={false} />
          <Line data={ancRows} dataKey="v" type="linear" stroke="#000" strokeWidth={2} dot={AncDot} activeDot={false} isAnimationActive={false} />
        </LineChart>
      </div>
      <div style={titleStyle(886, 42)}>{chartTitle}</div>
      <div style={axisTitleStyle(47.5, 166, true)}>Halt uekv/l</div>
      <div style={axisTitleStyle(825, 328, false)}>{xTitle}</div>
      <Legend />

      {/* Panel 2: pH */}
      <div style={{ position: 'absolute', left: 0, top: 360 }}>
        <LineChart width={CHART_W} height={322} margin={{ top: 66.7, right: RIGHT, bottom: 0, left: 0 }}>
          {commonAxes(148, [4, 7], phTicks, 5)}
          <Line data={phRows} dataKey="v" type="linear" stroke="#000" strokeWidth={2} dot={PhDot} activeDot={false} isAnimationActive={false} />
        </LineChart>
      </div>
      <div style={titleStyle(886, 402.5)}>{chartTitle}</div>
      <div style={axisTitleStyle(82, 524, true)}>pH</div>
      <div style={axisTitleStyle(825, 690, false)}>{xTitle}</div>

      {/* Panel 3: Q */}
      <div style={{ position: 'absolute', left: 0, top: 720 }}>
        <LineChart width={CHART_W} height={322} margin={{ top: 65.7, right: RIGHT, bottom: 0, left: 0 }}>
          {commonAxes(152, [0, 15], qTicks, 7)}
          <Line data={qRows} dataKey="v" type="linear" stroke="#000" strokeWidth={2} dot={false} activeDot={false} isAnimationActive={false} />
        </LineChart>
      </div>
      <div style={titleStyle(886, 760.7)}>{chartTitle}</div>
      <div style={axisTitleStyle(82, 883, true)}>Q mm/dygn</div>
      <div style={axisTitleStyle(825, 1047, false)}>{xTitle}</div>
    </div>
  );
}
